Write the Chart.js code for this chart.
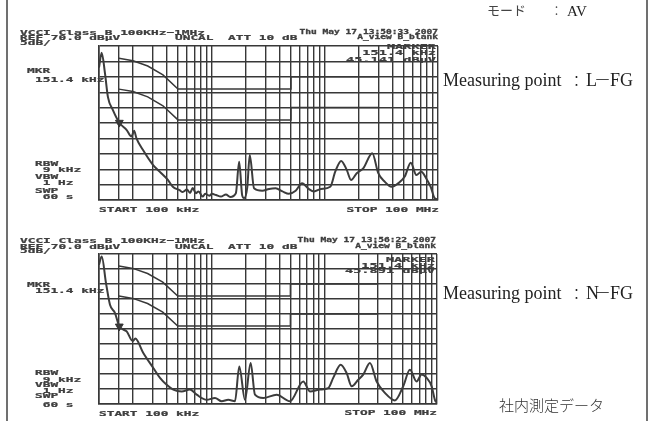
<!DOCTYPE html>
<html>
<head>
<meta charset="utf-8">
<script src="https://cdn.jsdelivr.net/npm/chart.js@4.4.1/dist/chart.umd.min.js"></script>
<style>
html, body { margin: 0; padding: 0; background: #fff; }
#wrap { position: relative; width: 650px; height: 421px; overflow: hidden; background: #fff; }
#wrap canvas { position: absolute; left: 0; top: 0; }
.rule { position: absolute; top: 0; width: 2px; height: 421px; background: #707070; }
</style>
</head>
<body>
<div id="wrap">
  <div class="rule" style="left:6px"></div>
  <div class="rule" style="left:646px"></div>
  <canvas id="chartLFG" width="650" height="421"></canvas>
  <canvas id="chartNFG" width="650" height="421"></canvas>
</div>
<script>
// grid of the analyzer screen (MHz, dBuV)
const freqGrid = [0.1, 0.15, 0.2, 0.3, 0.4, 0.5, 0.6, 0.7, 0.8, 0.9, 1, 2, 3, 4, 5, 6, 7, 8, 9, 10, 20, 30, 40, 50, 60, 70, 80, 90, 100];
const levelGrid = [20, 25, 30, 35, 40, 45, 50, 55, 60, 65, 70];

// VCCI class B limits, QP and AV
const limitFreq = [0.15, 0.2, 0.27, 0.368, 0.5, 5, 5, 30];
const qpLimit = [66, 65.2, 63.5, 60.6, 56, 56, 60, 60];
const avLimit = [56, 55.2, 53.5, 50.6, 46, 46, 50, 50];

// Measuring point L-FG
const lfgFreq = [0.100, 0.1056, 0.1129, 0.120, 0.1328, 0.1514, 0.1753, 0.194, 0.2044, 0.2146, 0.2453, 0.300, 0.344, 0.407, 0.450, 0.516, 0.55, 0.60, 0.64, 0.675, 0.72, 0.76, 0.827, 0.87, 0.947, 1.0, 1.084, 1.2, 1.328, 1.45, 1.626, 1.739, 1.85, 1.924, 2.05, 2.159, 2.355, 2.786, 3.2, 3.655, 4.2, 4.786, 5.5, 6.265, 7.178, 8.0, 9.2, 11.13, 12.32, 13.9, 15.6, 17.0, 19.1, 21.8, 26.2, 29.6, 33.9, 38.7, 44.4, 50.8, 57.4, 64.3, 71.1, 78.7, 86.1, 93.4, 100];
const lfgLevel = [63.0, 67.8, 61.2, 53.4, 49.2, 45.1, 42.8, 40.6, 42.5, 40.0, 36.2, 31.4, 29.2, 26.5, 24.3, 23.2, 22.6, 23.4, 22.3, 23.9, 22.2, 22.8, 21.1, 22.0, 21.4, 22.0, 21.6, 21.1, 21.8, 21.0, 22.2, 32.4, 21.5, 20.6, 24.0, 34.6, 23.8, 23.0, 23.6, 23.8, 22.8, 22.0, 23.0, 25.4, 23.6, 22.8, 23.6, 24.3, 29.2, 32.7, 29.7, 26.5, 28.7, 30.3, 35.2, 28.7, 25.9, 24.3, 25.4, 27.6, 32.1, 28.1, 29.2, 27.0, 24.3, 20.6, 20.2];

// Measuring point N-FG
const nfgFreq = [0.100, 0.1057, 0.1154, 0.1252, 0.1387, 0.1514, 0.1761, 0.199, 0.21, 0.2472, 0.3033, 0.3477, 0.3987, 0.4563, 0.5418, 0.6421, 0.7361, 0.9031, 1.070, 1.227, 1.404, 1.610, 1.758, 1.975, 2.218, 2.423, 2.870, 3.774, 4.953, 6.500, 7.450, 9.14, 10.83, 11.99, 13.96, 15.78, 17.48, 20.0, 22.14, 25.39, 29.12, 34.49, 42.31, 50.13, 57.5, 65.9, 73.0, 80.9, 89.6, 95.8, 100];
const nfgLevel = [66.4, 69.2, 60.3, 53.1, 50.3, 45.9, 44.2, 41.0, 41.8, 37.0, 32.0, 28.7, 26.4, 24.8, 24.2, 24.8, 23.1, 21.4, 22.0, 20.9, 21.4, 20.9, 32.5, 21.4, 33.7, 23.1, 22.0, 23.1, 20.9, 27.5, 24.2, 24.8, 25.3, 28.7, 33.1, 30.3, 25.9, 28.1, 29.8, 33.7, 27.5, 23.7, 21.2, 25.9, 31.4, 27.5, 29.8, 28.7, 25.9, 21.4, 20.3];

const lfgMarker = { freq: 0.1514, level: 45.141 };
const nfgMarker = { freq: 0.1514, level: 45.891 };

const INK = '#383838';
const TXT = '#3f3f3f';

function pts(xs, ys) {
    return xs.map((x, i) => ({ x: x, y: ys[i] }));
}

// analyzer text is wide and flat, so squash a mono font vertically
function monoText(ctx, text, x, y, size, align) {
    ctx.save();
    ctx.font = 'bold ' + size + 'px "DejaVu Sans Mono"';
    ctx.fillStyle = TXT;
    ctx.strokeStyle = TXT;
    ctx.lineWidth = 0.4;
    ctx.textAlign = align || 'left';
    ctx.textBaseline = 'alphabetic';
    ctx.translate(x, y);
    ctx.scale(1, 5.6 / (0.73 * size));
    ctx.fillText(text, 0, 0);
    ctx.strokeText(text, 0, 0);
    ctx.restore();
}

function pageText(ctx, text, x, y, font, color) {
    ctx.save();
    ctx.font = font;
    ctx.fillStyle = color || '#222';
    ctx.textBaseline = 'alphabetic';
    ctx.fillText(text, x, y);
    ctx.restore();
}

function measuringPoint(ctx, a, y) {
    const serif = '18px "Liberation Serif"';
    pageText(ctx, 'Measuring point', 443, y, serif);
    pageText(ctx, '：', 569, y, '300 15px "Noto Sans CJK JP"');
    pageText(ctx, a, 586, y, serif);
    pageText(ctx, '－', 594, y, '300 17px "Noto Sans CJK JP"');
    pageText(ctx, 'FG', 610, y, serif);
}

const lfgTexts = [
    ['VCCI Class B 100KHz~1MHz', 20, 34.5, 12.8],
    ['REF 70.0 dBµV', 20, 39.8, 12.8],
    ['5dB/', 20, 44.5, 12.8],
    ['UNCAL', 175, 39.8, 12.8],
    ['ATT 10 dB', 228, 39.8, 12.8],
    ['MKR', 27, 72.5, 12.8],
    ['151.4 kHz', 35, 81.5, 12.8],
    ['RBW', 35, 165.5, 12.8],
    [' 9 kHz', 35, 172, 12.8],
    ['VBW', 35, 178.5, 12.8],
    [' 1 Hz', 35, 185, 12.8],
    ['SWP', 35, 192.5, 12.8],
    [' 60 s', 35, 199, 12.8],
    ['START 100 kHz', 99, 211.5, 12.8],
    ['STOP 100 MHz', 439, 211.5, 12.8, 'right'],
    ['Thu May 17 13:50:33 2007', 438, 33.5, 9.6, 'right'],
    ['A_view B_blank', 438, 39, 9.6, 'right'],
    ['MARKER', 436, 49.3, 13.6, 'right'],
    ['151.4 kHz', 436, 55.3, 13.6, 'right'],
    ['45.141 dBµV', 436, 61.5, 13.6, 'right']
];

const nfgTexts = [
    ['VCCI Class B 100KHz~1MHz', 20, 243.3, 12.8],
    ['REF 70.0 dBµV', 20, 248.5, 12.8],
    ['5dB/', 20, 253, 12.8],
    ['UNCAL', 175, 248.5, 12.8],
    ['ATT 10 dB', 228, 248.5, 12.8],
    ['MKR', 27, 286.7, 12.8],
    ['151.4 kHz', 35, 293.3, 12.8],
    ['RBW', 35, 375, 12.8],
    [' 9 kHz', 35, 381.7, 12.8],
    ['VBW', 35, 386.7, 12.8],
    [' 1 Hz', 35, 392.7, 12.8],
    ['SWP', 35, 397.5, 12.8],
    [' 60 s', 35, 407, 12.8],
    ['START 100 kHz', 99, 416, 12.8],
    ['STOP 100 MHz', 437, 415, 12.8, 'right'],
    ['Thu May 17 13:56:22 2007', 436, 242.3, 9.6, 'right'],
    ['A_view B_blank', 436, 248, 9.6, 'right'],
    ['MARKER', 435, 261.7, 13.6, 'right'],
    ['151.4 kHz', 435, 267.5, 13.6, 'right'],
    ['45.891 dBµV', 435, 273, 13.6, 'right']
];

function screenChart(id, freq, level, marker, texts, pad, extra) {
    const ctx = document.getElementById(id);
    return new Chart(ctx, {
        type: 'line',
        data: {
            datasets: [
                {
                    data: pts(limitFreq, qpLimit),
                    borderColor: INK,
                    borderWidth: 1.5,
                    pointRadius: 0,
                    tension: 0
                },
                {
                    data: pts(limitFreq, avLimit),
                    borderColor: INK,
                    borderWidth: 1.5,
                    pointRadius: 0,
                    tension: 0
                },
                {
                    data: pts(freq, level),
                    borderColor: '#3c3c3c',
                    borderWidth: 2,
                    pointRadius: 0,
                    cubicInterpolationMode: 'monotone'
                },
                {
                    data: [{ x: marker.freq, y: marker.level }],
                    showLine: false,
                    pointStyle: 'triangle',
                    rotation: 180,
                    pointRadius: 4.5,
                    backgroundColor: '#333',
                    borderColor: '#333'
                }
            ]
        },
        options: {
            responsive: false,
            devicePixelRatio: 1,
            animation: false,
            layout: { padding: pad },
            plugins: {
                legend: { display: false },
                tooltip: { enabled: false }
            },
            scales: {
                x: {
                    type: 'logarithmic',
                    min: 0.1,
                    max: 100,
                    afterBuildTicks: function (scale) {
                        scale.ticks = freqGrid.map(v => ({ value: v }));
                    },
                    ticks: { display: false },
                    grid: { color: INK, lineWidth: 1.4, drawTicks: false },
                    border: { color: INK, width: 1.6 }
                },
                y: {
                    min: 20,
                    max: 70,
                    afterBuildTicks: function (scale) {
                        scale.ticks = levelGrid.map(v => ({ value: v }));
                    },
                    ticks: { display: false },
                    grid: { color: INK, lineWidth: 1.4, drawTicks: false },
                    border: { color: INK, width: 1.6 }
                }
            }
        },
        plugins: [{
            id: 'screenText',
            afterDraw: function (chart) {
                const c = chart.ctx;
                texts.forEach(t => monoText(c, t[0], t[1], t[2], t[3], t[4]));
                if (extra) extra(c);
            }
        }]
    });
}

screenChart('chartLFG', lfgFreq, lfgLevel, lfgMarker, lfgTexts,
    { left: 99, top: 46, right: 212, bottom: 221 },
    function (c) {
        measuringPoint(c, 'L', 85.7);
        pageText(c, 'モード', 487, 15, '13px "Noto Sans CJK JP"', '#444');
        pageText(c, '：', 550, 15, '300 13px "Noto Sans CJK JP"', '#444');
        pageText(c, 'AV', 567, 15.5, '15px "Liberation Serif"', '#222');
    });

screenChart('chartNFG', nfgFreq, nfgLevel, nfgMarker, nfgTexts,
    { left: 99, top: 254, right: 213, bottom: 17 },
    function (c) {
        measuringPoint(c, 'N', 299);
        pageText(c, '社内測定データ', 499, 411, '300 15px "Noto Sans CJK JP"', '#333');
    });
</script>
</body>
</html>
